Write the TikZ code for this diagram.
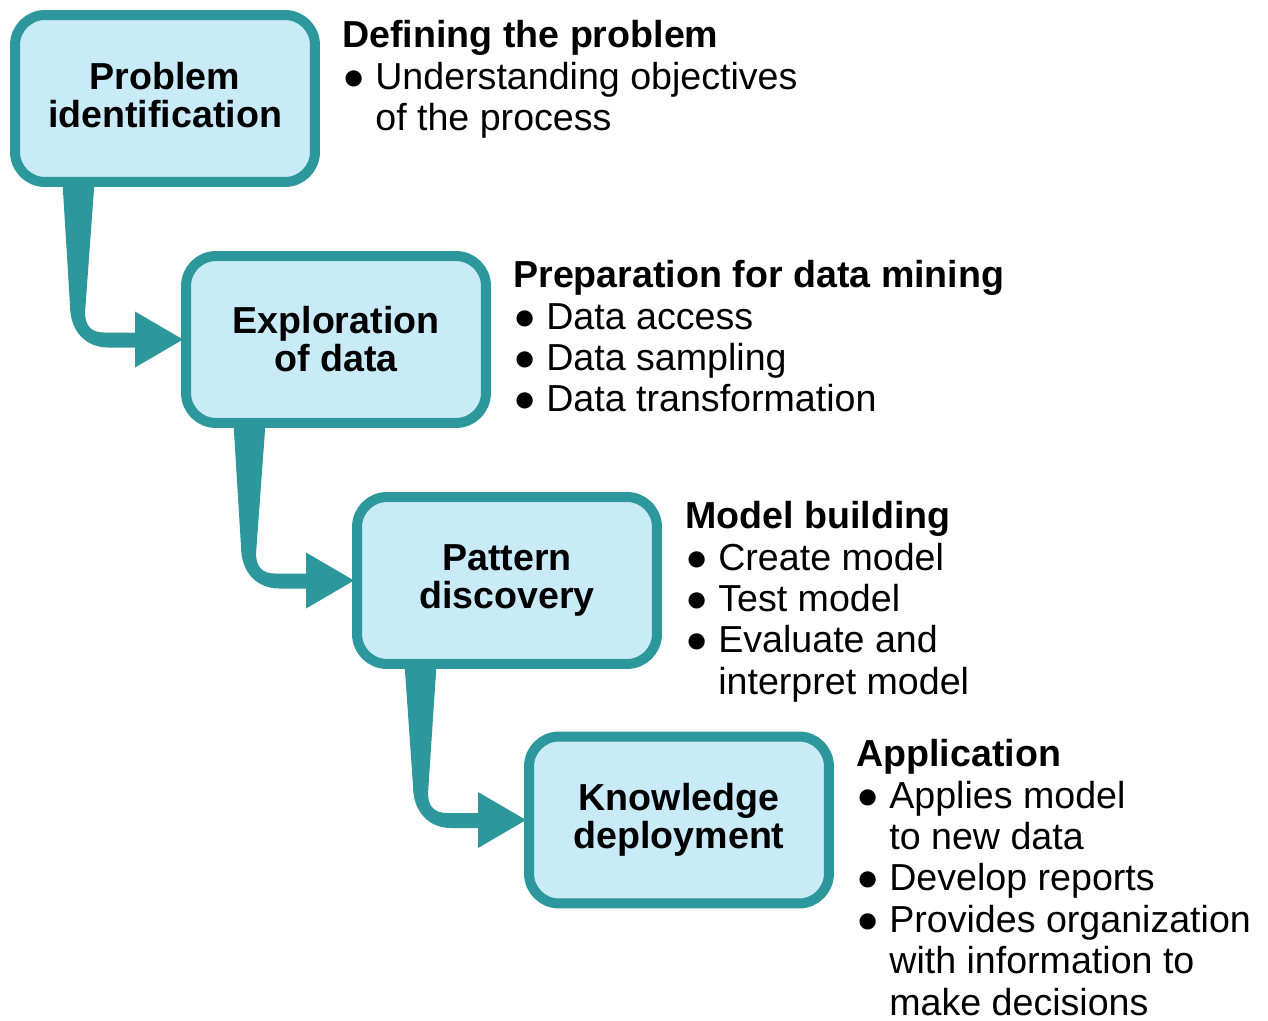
\documentclass[tikz,border=0pt]{standalone}
\usepackage{fontspec}
\setmainfont{Liberation Sans}
\usetikzlibrary{calc}
\pgfdeclarelayer{background}
\pgfsetlayers{background,main}
\definecolor{teal1}{RGB}{44,152,156}
\definecolor{fillb}{RGB}{201,234,247}
\newcommand\blt{\makebox[0.66cm][l]{●}}
\newcommand\ind{\hspace*{0.66cm}}
\tikzset{
  boxnode/.style={draw=teal1, fill=fillb, line width=0.2cm, rounded corners=0.6cm,
    minimum width=6cm, minimum height=3.34cm, outer sep=0pt, align=center,
    font=\fontsize{21.4pt}{21.6pt}\selectfont\bfseries},
  desc/.style={anchor=north west, inner sep=0pt, align=left,
    font=\fontsize{21.4pt}{23.6pt}\selectfont},
  conn/.style={fill=teal1, draw=none}
}
\newcommand\connect[2]{%
  \fill[conn] ($(#1.south west)+(47,-7)$) -- ($(#1.south west)+(80,-7)$)
    -- ($(#2.west)+(-101,-27)$) .. controls ($(#2.west)+(-101,-14)$) and ($(#2.west)+(-95,-7)$) .. ($(#2.west)+(-82,-7)$)
    -- ($(#2.west)+(-51,-7)$) -- ($(#2.west)+(-51,-28)$) -- ($(#2.west)+(-3,0)$)
    -- ($(#2.west)+(-51,28)$) -- ($(#2.west)+(-51,8)$) -- ($(#2.west)+(-78,8)$)
    .. controls ($(#2.west)+(-100,8)$) and ($(#2.west)+(-116,-8)$) .. ($(#2.west)+(-116,-34)$) -- cycle;}
\begin{document}
\begin{tikzpicture}[x=0.02cm,y=-0.02cm]
\useasboundingbox (0,0) rectangle (1268,1021);
\node[boxnode] (b1) at (165,98.5) {Problem\\identification\vphantom{p}};
\node[boxnode] (b2) at (336,339.5) {Exploration\\of data};
\node[boxnode] (b3) at (507,580.5) {Pattern\\discovery};
\node[boxnode] (b4) at (679,820) {Knowledge\\deployment};
\begin{pgfonlayer}{background}
\path[fill=white] (0,0) rectangle (1268,1021);
\connect{b1}{b2}
\connect{b2}{b3}
\connect{b3}{b4}
\end{pgfonlayer}
% descriptions
\node[desc] (d1) at (342,20) {\textbf{Defining the problem}\\\blt Understanding objectives\\\ind of the process};
\node[desc] (d2) at (513,260) {\textbf{Preparation for data mining}\\\blt Data access\\\blt Data sampling\\\blt Data transformation};
\node[desc] (d3) at (685,501) {\textbf{Model building}\\\blt Create model\\\blt Test model\\\blt Evaluate and\\\ind interpret model};
\node[desc] (d4) at (856,739) {\textbf{Application}\\\blt Applies model\\\ind to new data\\\blt Develop reports\\\blt Provides organization\\\ind with information to\\\ind make decisions};
\end{tikzpicture}
\end{document}
